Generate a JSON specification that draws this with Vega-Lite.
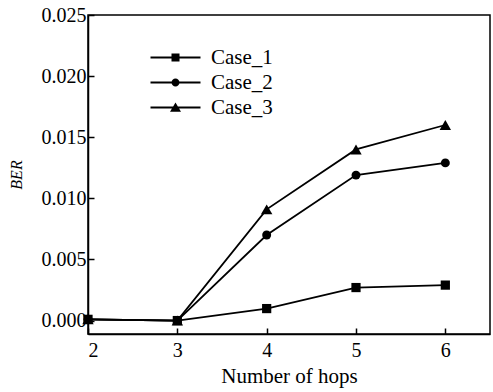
{
  "$schema": "https://vega.github.io/schema/vega-lite/v6.json",
  "autosize": {"type": "none"},
  "padding": {"left": 88, "top": 15, "right": 3, "bottom": 58},
  "width": 402,
  "height": 319,
  "background": "white",
  "config": {
    "font": "Liberation Serif",
    "view": {"stroke": "black", "strokeWidth": 1.5},
    "legend": {"labelFont": "Liberation Serif", "labelFontSize": 21},
    "axis": {
      "domainColor": "black", "domainWidth": 1.5, "tickColor": "black", "tickWidth": 1.5,
      "labelColor": "black", "titleColor": "black", "grid": false,
      "labelFont": "Liberation Serif", "labelFontSize": 20
    }
  },
  "data": {"values": [
    {"hops": 2, "ber": 0.0001, "series": "Case_1"},
    {"hops": 3, "ber": 0.0000, "series": "Case_1"},
    {"hops": 4, "ber": 0.00098, "series": "Case_1"},
    {"hops": 5, "ber": 0.0027, "series": "Case_1"},
    {"hops": 6, "ber": 0.0029, "series": "Case_1"},
    {"hops": 2, "ber": 0.0001, "series": "Case_2"},
    {"hops": 3, "ber": 0.0000, "series": "Case_2"},
    {"hops": 4, "ber": 0.0070, "series": "Case_2"},
    {"hops": 5, "ber": 0.0119, "series": "Case_2"},
    {"hops": 6, "ber": 0.0129, "series": "Case_2"},
    {"hops": 2, "ber": 0.0001, "series": "Case_3"},
    {"hops": 3, "ber": 0.0000, "series": "Case_3"},
    {"hops": 4, "ber": 0.0091, "series": "Case_3"},
    {"hops": 5, "ber": 0.0140, "series": "Case_3"},
    {"hops": 6, "ber": 0.0160, "series": "Case_3"}
  ]},
  "encoding": {
    "x": {"field": "hops", "type": "quantitative",
      "scale": {"domain": [2, 6.5], "nice": false, "zero": false},
      "axis": {"values": [2, 3, 4, 5, 6], "format": "d", "title": "Number of hops",
        "labelFont": "Liberation Serif", "labelFontSize": 20,
        "titleFont": "Liberation Serif", "titleFontSize": 21, "titleFontWeight": "normal",
        "tickSize": -6, "labelPadding": 12, "titlePadding": 5,
        "encode": {"labels": {"update": {"font": {"value": "Liberation Serif"}, "fontSize": {"value": 20}}}}}},
    "y": {"field": "ber", "type": "quantitative",
      "scale": {"domain": [-0.0011, 0.025], "nice": false, "zero": false},
      "axis": {"values": [0, 0.005, 0.01, 0.015, 0.02, 0.025], "format": ".3f", "title": "BER",
        "labelFont": "Liberation Serif", "labelFontSize": 20,
        "titleFont": "Liberation Serif", "titleFontSize": 16, "titleFontWeight": "normal",
        "titleFontStyle": "italic", "tickSize": -6, "labelPadding": 8, "titlePadding": 17,
        "encode": {"labels": {"update": {"font": {"value": "Liberation Serif"}, "fontSize": {"value": 20}}}}}}
  },
  "layer": [
    {"mark": {"type": "line", "color": "black", "strokeWidth": 1.8},
     "encoding": {"detail": {"field": "series"}}},
    {"mark": {"type": "point", "filled": true, "color": "black", "opacity": 1},
     "encoding": {
       "shape": {"condition": [
         {"test": "datum.series === 'Case_1'", "value": "square"},
         {"test": "datum.series === 'Case_2'", "value": "circle"}],
         "value": "triangle-up"},
       "size": {"condition": [
         {"test": "datum.series === 'Case_1'", "value": 85},
         {"test": "datum.series === 'Case_2'", "value": 80}],
         "value": 130}
     }},
    {"transform": [{"filter": "datum.hops > 100"}],
     "mark": {"type": "point", "filled": true, "color": "black", "strokeWidth": 0, "opacity": 1},
     "encoding": {
       "shape": {"field": "series", "type": "nominal",
         "scale": {"domain": ["Case_1", "Case_2", "Case_3"],
           "range": [
             "M-5,-0.2L5,-0.2L5,0.2L-5,0.2Z M-0.8,-0.8L0.8,-0.8L0.8,0.8L-0.8,0.8Z",
             "M-5,-0.2L5,-0.2L5,0.2L-5,0.2Z M0.8,0L0.739,0.306L0.566,0.566L0.306,0.739L0,0.8L-0.306,0.739L-0.566,0.566L-0.739,0.306L-0.8,0L-0.739,-0.306L-0.566,-0.566L-0.306,-0.739L0,-0.8L0.306,-0.739L0.566,-0.566L0.739,-0.306Z",
             "M-5,-0.2L5,-0.2L5,0.2L-5,0.2Z M0,-1L1.1,0.85L-1.1,0.85Z"]},
         "legend": {
           "title": null, "orient": "none", "legendX": 77, "legendY": 32,
           "labelFontSize": 21, "labelFont": "Liberation Serif", "labelColor": "black",
           "symbolSize": 100, "labelOffset": 25, "rowPadding": 3,
           "symbolStrokeWidth": 0, "symbolFillColor": "black", "symbolOpacity": 1}
       }
     }}
  ]
}
